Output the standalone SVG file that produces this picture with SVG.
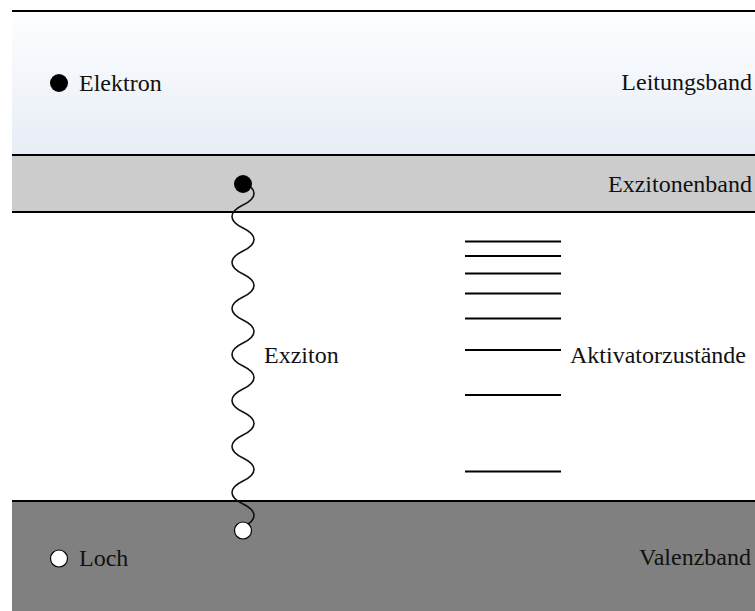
<svg xmlns="http://www.w3.org/2000/svg" width="755" height="611" viewBox="0 0 755 611">
  <style>
    .lbl { font-family: "Liberation Serif", "Times New Roman", serif; font-size: 24px; fill: #111; }
    .end { text-anchor: end; }
    .edge { stroke: #000; stroke-width: 2.2; fill: none; }
    .level { stroke: #000; stroke-width: 2; }
    .wave { stroke: #111; stroke-width: 1.6; fill: none; }
  </style>
  <defs>
    <linearGradient id="cbGrad" x1="0" y1="0" x2="0" y2="1">
      <stop offset="0" stop-color="#fdfeff"/>
      <stop offset="1" stop-color="#e7edf6"/>
    </linearGradient>
  </defs>
  <rect width="755" height="611" fill="#fff"/>

  <!-- Leitungsband -->
  <g id="leitungsband">
    <rect x="12" y="11" width="743" height="144" fill="url(#cbGrad)"/>
    <text class="lbl end" x="752" y="90">Leitungsband</text>
  </g>

  <!-- Exzitonenband -->
  <g id="exzitonenband">
    <rect x="12" y="155" width="743" height="57" fill="#cccccc"/>
    <text class="lbl end" x="752" y="192">Exzitonenband</text>
  </g>

  <!-- Valenzband -->
  <g id="valenzband">
    <rect x="12" y="501" width="743" height="110" fill="#808080"/>
    <text class="lbl end" x="751" y="565">Valenzband</text>
  </g>

  <!-- band edges -->
  <g id="edges">
    <line class="edge" x1="12" y1="11" x2="755" y2="11"/>
    <line class="edge" x1="12" y1="155" x2="755" y2="155"/>
    <line class="edge" x1="12" y1="212" x2="755" y2="212"/>
    <line class="edge" x1="12" y1="501" x2="755" y2="501"/>
  </g>

  <!-- legend -->
  <g id="legend-elektron">
    <circle cx="59" cy="83" r="9" fill="#000"/>
    <text class="lbl" x="79" y="91">Elektron</text>
  </g>
  <g id="legend-loch">
    <circle cx="59" cy="558.5" r="8.5" fill="#fff" stroke="#000" stroke-width="1.2"/>
    <text class="lbl" x="79" y="566">Loch</text>
  </g>

  <!-- Aktivatorzustände -->
  <g id="aktivator">
    <line class="level" x1="465" y1="241.5" x2="561" y2="241.5"/>
    <line class="level" x1="465" y1="256" x2="561" y2="256"/>
    <line class="level" x1="465" y1="273.5" x2="561" y2="273.5"/>
    <line class="level" x1="465" y1="293.5" x2="561" y2="293.5"/>
    <line class="level" x1="465" y1="318.5" x2="561" y2="318.5"/>
    <line class="level" x1="465" y1="350" x2="561" y2="350"/>
    <line class="level" x1="465" y1="395" x2="561" y2="395"/>
    <line class="level" x1="465" y1="471.5" x2="561" y2="471.5"/>
    <text class="lbl" x="570" y="363">Aktivatorzustände</text>
  </g>

  <!-- Exziton: electron-hole pair joined by a wavy line (half-waves of 23px) -->
  <g id="connectors">
    <path class="wave" d="M243,182
      c14.67,7 14.67,16 0,23 c-14.67,7 -14.67,16 0,23
      c14.67,7 14.67,16 0,23 c-14.67,7 -14.67,16 0,23
      c14.67,7 14.67,16 0,23 c-14.67,7 -14.67,16 0,23
      c14.67,7 14.67,16 0,23 c-14.67,7 -14.67,16 0,23
      c14.67,7 14.67,16 0,23 c-14.67,7 -14.67,16 0,23
      c14.67,7 14.67,16 0,23 c-14.67,7 -14.67,16 0,23
      c14.67,7 14.67,16 0,23 c-14.67,7 -14.67,16 0,23
      c14.67,7 14.67,16 0,23"/>
  </g>
  <g id="exziton">
    <circle cx="243" cy="184" r="9" fill="#000"/>
    <circle cx="243" cy="530.5" r="8.5" fill="#fff" stroke="#000" stroke-width="1.2"/>
    <text class="lbl" x="264" y="363">Exziton</text>
  </g>
</svg>
